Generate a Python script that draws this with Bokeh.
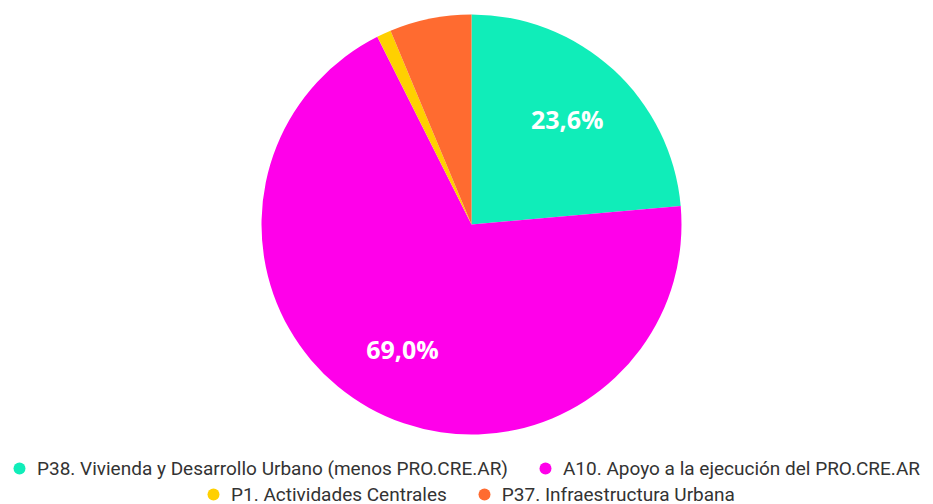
import numpy as np
from bokeh.plotting import figure
from bokeh.models import ColumnDataSource, Range1d, Legend, LegendItem
from bokeh.core.properties import value
from bokeh.embed import file_html
from bokeh.resources import INLINE

categories = [
    "P38. Vivienda y Desarrollo Urbano (menos PRO.CRE.AR)",
    "A10. Apoyo a la ejecución del PRO.CRE.AR",
    "P1. Actividades Centrales",
    "P37. Infraestructura Urbana",
]
shares = [23.6, 69.0, 1.1, 6.3]
slice_labels = ["23,6%", "69,0%", "", ""]
colors = ["#10EDB9", "#FF00EA", "#FFD000", "#FF6B30"]

W, H = 933, 504
cx, cy, r = 471, H - 224, 210

frac = np.array(shares) / sum(shares)
cum = np.concatenate([[0], np.cumsum(frac)])
start = np.pi / 2 - 2 * np.pi * cum[:-1]
end = np.pi / 2 - 2 * np.pi * cum[1:]
mid = (start + end) / 2

src = ColumnDataSource(dict(
    start=start, end=end, color=colors, cat=categories,
    lx=cx + 0.675 * r * np.cos(mid), ly=cy + 0.68 * r * np.sin(mid),
    lab=slice_labels,
))

p = figure(width=W, height=H, output_backend="svg", toolbar_location=None,
           x_range=Range1d(0, W), y_range=Range1d(0, H), min_border=0,
           outline_line_color=None)
p.axis.visible = False
p.grid.visible = False

p.wedge(x=cx, y=cy, radius=r, start_angle="start", end_angle="end",
        direction="clock", fill_color="color", line_color=None, source=src)
p.text(x="lx", y="ly", text="lab", text_color="white",
       text_font=value("Open Sans"), text_font_style="bold",
       text_font_size="25px", text_align="center", text_baseline="middle",
       source=src)

items = []
for c, col in zip(categories, colors):
    rr = p.scatter(x=[cx], y=[cy], marker="circle", size=0, fill_color=col,
                   line_color=None)
    items.append(LegendItem(label=c, renderers=[rr]))

def mk(its, loc):
    lg = Legend(items=its, orientation="horizontal", location=loc,
                glyph_width=30, glyph_height=30, label_height=30,
                label_standoff=3, spacing=22, padding=0, margin=0,
                border_line_color=None, background_fill_alpha=0,
                label_text_font="Roboto", label_text_font_size="19px",
                label_text_color="#333333")
    p.add_layout(lg, "center")
    return lg

mk(items[:2], (4, 21))
mk(items[2:], (198, -5))

open("out.html", "w").write(file_html(p, INLINE))
